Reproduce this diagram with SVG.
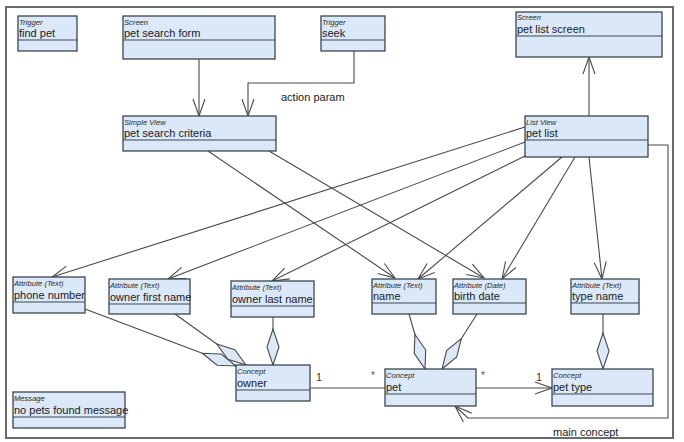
<svg xmlns="http://www.w3.org/2000/svg" width="684" height="442" viewBox="0 0 684 442">
  <style>
    .frame { fill: #ffffff; stroke: #6a6a6a; stroke-width: 2; }
    .box { fill: #dbe8f7; stroke: #3c4650; stroke-width: 1.3; }
    .sep { stroke: #3c4650; stroke-width: 1.2; }
    .kind { font-family: "Liberation Sans", Arial, sans-serif; font-size: 7.6px; font-style: italic; fill: #2a2a2a; }
    .name { font-family: "Liberation Sans", Arial, sans-serif; font-size: 11px; fill: #1a1a26; }
    .lbl { font-family: "Liberation Sans", Arial, sans-serif; font-size: 11px; fill: #1a1a26; }
    .mult { font-family: "Liberation Sans", Arial, sans-serif; font-size: 11px; fill: #6b2424; }
    .star { font-family: "Liberation Sans", Arial, sans-serif; font-size: 10px; fill: #555555; }
    .conn path { fill: none; stroke: #4a4a4a; stroke-width: 1.1; }
    .arrow { marker-end: url(#open-arrow); }
    .agg { marker-end: url(#diamond); }
  </style>
  <defs>
    <marker id="open-arrow" markerUnits="userSpaceOnUse" viewBox="-18 -7 19 14" markerWidth="19" markerHeight="14" refX="0" refY="0" orient="auto">
      <path d="M-17,-6 L0,0 L-17,6" fill="none" stroke="#4a4a4a" stroke-width="1.1"/>
    </marker>
    <marker id="diamond" markerUnits="userSpaceOnUse" viewBox="-37 -7 38 14" markerWidth="38" markerHeight="14" refX="0" refY="0" orient="auto">
      <path d="M0,0 L-18,-6 L-36,0 L-18,6 Z" fill="#dbe8f7" stroke="#4a4a4a" stroke-width="1.1"/>
    </marker>
  </defs>

  <rect class="frame" x="6" y="7" width="667" height="431"/>

  <!-- connectors -->
  <g id="connectors" class="conn">
    <path class="arrow" d="M199,59 V116"/>
    <path class="arrow" d="M354,51 V83 H248 V116"/>
    <path class="arrow" d="M589,116 V57"/>
    <path class="arrow" d="M208,151 L395,278"/>
    <path class="arrow" d="M269,151 L484,278"/>
    <path class="arrow" d="M525,127 L52,277"/>
    <path class="arrow" d="M525,142 L168,279"/>
    <path class="arrow" d="M525,156 L272,281"/>
    <path class="arrow" d="M562,157 L418,279"/>
    <path class="arrow" d="M575,157 L502,279"/>
    <path class="arrow" d="M589,157 L602,279"/>
    <path class="agg" d="M85,309 L236,366"/>
    <path class="agg" d="M175,314 L246,365"/>
    <path class="agg" d="M273,317 V365"/>
    <path class="agg" d="M409,314 L425,369"/>
    <path class="agg" d="M477,314 L442,369"/>
    <path class="agg" d="M603,314 V369"/>
    <path d="M310,388 H385"/>
    <path class="arrow" d="M476,388 H552"/>
    <path class="arrow" d="M648,145 H668 V418 H468 L455,406"/>
  </g>

  <!-- connector labels -->
  <g id="connector-labels">
    <text class="lbl" x="281" y="101">action param</text>
    <text class="lbl" x="553" y="436">main concept</text>
    <text class="mult" x="316" y="381">1</text>
    <text class="star" x="371" y="379">*</text>
    <text class="star" x="481" y="379">*</text>
    <text class="mult" x="536" y="381">1</text>
  </g>

  <!-- nodes -->
  <g id="n-find-pet">
    <rect class="box" x="18" y="16" width="59" height="35"/>
    <line class="sep" x1="18" y1="40" x2="77" y2="40"/>
    <text class="kind" x="19" y="25">Trigger</text>
    <text class="name" x="19" y="37">find pet</text>
  </g>
  <g id="n-pet-search-form">
    <rect class="box" x="123" y="16" width="152" height="43"/>
    <line class="sep" x1="123" y1="40" x2="275" y2="40"/>
    <text class="kind" x="124" y="25">Screen</text>
    <text class="name" x="124" y="37">pet search form</text>
  </g>
  <g id="n-seek">
    <rect class="box" x="321" y="16" width="64" height="35"/>
    <line class="sep" x1="321" y1="40" x2="385" y2="40"/>
    <text class="kind" x="322" y="25">Trigger</text>
    <text class="name" x="322" y="37">seek</text>
  </g>
  <g id="n-pet-search-criteria">
    <rect class="box" x="123" y="116" width="153" height="35"/>
    <line class="sep" x1="123" y1="140" x2="276" y2="140"/>
    <text class="kind" x="124" y="125">Simple View</text>
    <text class="name" x="124" y="137">pet search criteria</text>
  </g>
  <g id="n-pet-list-screen">
    <rect class="box" x="516" y="12" width="146" height="45"/>
    <line class="sep" x1="516" y1="36" x2="662" y2="36"/>
    <text class="kind" x="517" y="20">Screen</text>
    <text class="name" x="517" y="33">pet list screen</text>
  </g>
  <g id="n-pet-list">
    <rect class="box" x="525" y="116" width="123" height="41"/>
    <line class="sep" x1="525" y1="140" x2="648" y2="140"/>
    <text class="kind" x="526" y="125">List View</text>
    <text class="name" x="526" y="137">pet list</text>
  </g>
  <g id="n-phone-number">
    <rect class="box" x="13" y="277" width="72" height="36"/>
    <line class="sep" x1="13" y1="302" x2="85" y2="302"/>
    <text class="kind" x="14" y="286">Attribute (Text)</text>
    <text class="name" x="14" y="299">phone number</text>
  </g>
  <g id="n-owner-first-name">
    <rect class="box" x="109" y="279" width="81" height="35"/>
    <line class="sep" x1="109" y1="304" x2="190" y2="304"/>
    <text class="kind" x="110" y="288">Attribute (Text)</text>
    <text class="name" x="110" y="301">owner first name</text>
  </g>
  <g id="n-owner-last-name">
    <rect class="box" x="231" y="281" width="83" height="36"/>
    <line class="sep" x1="231" y1="306" x2="314" y2="306"/>
    <text class="kind" x="232" y="290">Attribute (Text)</text>
    <text class="name" x="232" y="303">owner last name</text>
  </g>
  <g id="n-name">
    <rect class="box" x="372" y="279" width="64" height="35"/>
    <line class="sep" x1="372" y1="303" x2="436" y2="303"/>
    <text class="kind" x="373" y="288">Attribute (Text)</text>
    <text class="name" x="373" y="300">name</text>
  </g>
  <g id="n-birth-date">
    <rect class="box" x="453" y="279" width="73" height="35"/>
    <line class="sep" x1="453" y1="303" x2="526" y2="303"/>
    <text class="kind" x="454" y="288">Attribute (Date)</text>
    <text class="name" x="454" y="300">birth date</text>
  </g>
  <g id="n-type-name">
    <rect class="box" x="571" y="279" width="68" height="35"/>
    <line class="sep" x1="571" y1="303" x2="639" y2="303"/>
    <text class="kind" x="572" y="288">Attribute (Text)</text>
    <text class="name" x="572" y="300">type name</text>
  </g>
  <g id="n-owner">
    <rect class="box" x="236" y="365" width="74" height="36"/>
    <line class="sep" x1="236" y1="390" x2="310" y2="390"/>
    <text class="kind" x="237" y="374">Concept</text>
    <text class="name" x="237" y="387">owner</text>
  </g>
  <g id="n-pet">
    <rect class="box" x="385" y="369" width="91" height="37"/>
    <line class="sep" x1="385" y1="394" x2="476" y2="394"/>
    <text class="kind" x="386" y="378">Concept</text>
    <text class="name" x="386" y="391">pet</text>
  </g>
  <g id="n-pet-type">
    <rect class="box" x="552" y="369" width="101" height="37"/>
    <line class="sep" x1="552" y1="394" x2="653" y2="394"/>
    <text class="kind" x="553" y="378">Concept</text>
    <text class="name" x="553" y="391">pet type</text>
  </g>
  <g id="n-no-pets-found-message">
    <rect class="box" x="13" y="392" width="112" height="36"/>
    <line class="sep" x1="13" y1="417" x2="125" y2="417"/>
    <text class="kind" x="14" y="401">Message</text>
    <text class="name" x="14" y="414">no pets found message</text>
  </g>
</svg>
